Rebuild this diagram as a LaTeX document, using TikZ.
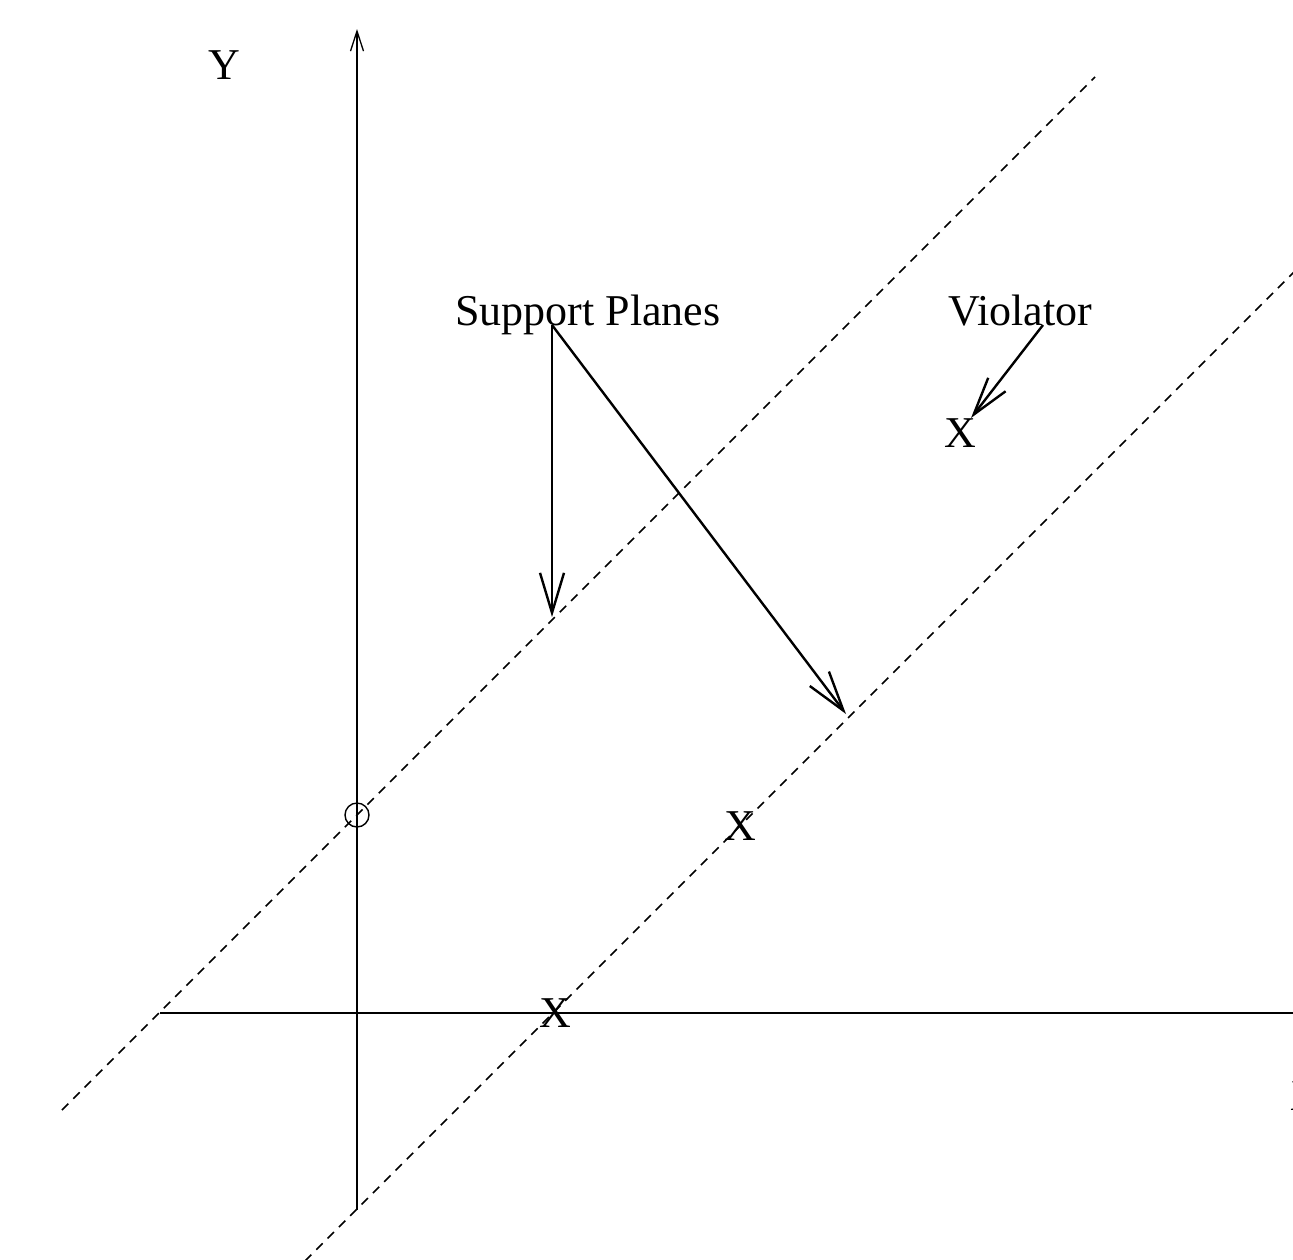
\documentclass[tikz,border=0pt]{standalone}
\usepackage{fontspec}
\setmainfont{Liberation Serif}
\usetikzlibrary{arrows.meta}
\begin{document}
\begin{tikzpicture}[x=1pt,y=-1pt,
  axis/.style={line width=1.3pt},
  support/.style={line width=1.6pt, dash pattern=on 9pt off 7pt},
  pointer/.style={line width=2.4pt, -{Straight Barb[length=40pt,width=24pt,line width=2.4pt]}},
  lbl/.style={inner sep=0pt, anchor=base, font=\fontsize{44}{50}\selectfont}]
\useasboundingbox (0,0) rectangle (1293,1259);
\clip (0,0) rectangle (1293,1259);
% axes
\coordinate (ybot) at (357,1210);
\coordinate (ytop) at (357,29);
\coordinate (xleft) at (160,1013);
\coordinate (xright) at (1330,1013);
\draw[axis, -{Straight Barb[length=20pt,width=13pt,line width=1.3pt]}] (ybot) -- (ytop);
\draw[axis] (xleft) -- (xright);
% support planes (dashed)
\coordinate (p1a) at (62,1110);
\coordinate (p1b) at (1095,77);
\coordinate (p2a) at (305,1261);
\coordinate (p2b) at (1310,256);
\draw[support] (p1a) -- (p1b);
\draw[support] (p2a) -- (p2b);
% circle at intercept
\node[draw, circle, line width=1.4pt, minimum size=24pt, inner sep=0pt] (origin) at (357,815) {};
% labels
\node[lbl] (ylab) at (224,79) {Y};
\node[lbl] (sp) at (588,325) {Support Planes};
\node[lbl] (viol) at (1020,325) {Violator};
\node[lbl] (x1) at (960,447) {X};
\node[lbl] (x2) at (740,840) {X};
\node[lbl] (x3) at (555,1027) {X};
\node[lbl] (xlab) at (1306,1110) {X};
% pointer arrows
\coordinate (spfoot) at (552,325);
\coordinate (tip1) at (552,617);
\coordinate (tip2) at (846,714);
\coordinate (vfoot) at (1043,325);
\coordinate (tip3) at (971,418);
\draw[pointer] (spfoot) -- (tip1);
\draw[pointer] (spfoot) -- (tip2);
\draw[line width=2.4pt, -{Straight Barb[length=38pt,width=22pt,line width=2.4pt]}] (vfoot) -- (tip3);
\end{tikzpicture}
\end{document}
